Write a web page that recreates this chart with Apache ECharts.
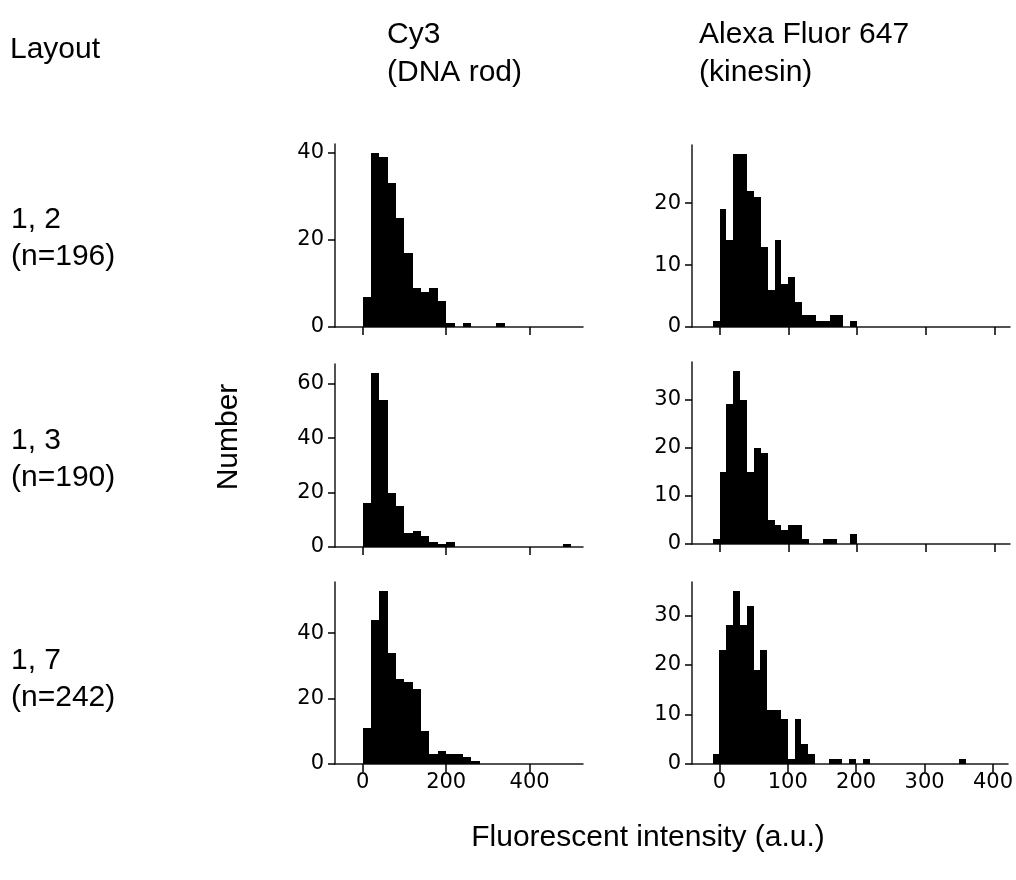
<!DOCTYPE html>
<html>
<head>
<meta charset="utf-8">
<title>Fluorescent intensity histograms</title>
<script src="https://cdn.jsdelivr.net/npm/echarts@6/dist/echarts.min.js"></script>
<style>
  html, body { margin: 0; padding: 0; background: #fff; }
  #chart { width: 1016px; height: 880px; }
</style>
</head>
<body>
<div id="chart"></div>
<script>
// Histogram counts per bin (Cy3 bins: 20 a.u. wide from 0; Alexa Fluor 647 bins: 10 a.u. wide from -10)
const cy3BinStart = 0;
const cy3BinWidth = 20;
const afBinStart = -10;
const afBinWidth = 10;

const cy3Layout12 = [7, 40, 39, 33, 25, 17, 9, 8, 9, 6, 1, 0, 1, 0, 0, 0, 1];
const cy3Layout13 = [16, 64, 54, 20, 15, 5, 6, 4, 2, 1, 2, 0, 0, 0, 0, 0, 0, 0, 0, 0, 0, 0, 0, 0, 1];
const cy3Layout17 = [11, 44, 53, 34, 26, 25, 23, 10, 3, 4, 3, 3, 2, 1];

const afLayout12 = [1, 19, 14, 28, 28, 22, 21, 13, 6, 14, 7, 8, 4, 2, 2, 1, 1, 2, 2, 0, 1];
const afLayout13 = [1, 15, 29, 36, 30, 15, 20, 19, 5, 4, 3, 4, 4, 1, 0, 0, 1, 1, 0, 0, 2];
const afLayout17 = [2, 23, 28, 35, 28, 32, 19, 23, 11, 11, 9, 1, 9, 4, 2, 0, 0, 1, 1, 0, 1, 0, 1,
                    0, 0, 0, 0, 0, 0, 0, 0, 0, 0, 0, 0, 0, 1];

// Tick labels
const cy3XTicks = [0, 200, 400];
const afXTicks = [0, 100, 200, 300, 400];
const yTicksRow1Left = [0, 20, 40];
const yTicksRow1Right = [0, 10, 20];
const yTicksRow2Left = [0, 20, 40, 60];
const yTicksRow2Right = [0, 10, 20, 30];
const yTicksRow3Left = [0, 20, 40];
const yTicksRow3Right = [0, 10, 20, 30];

const columnTitles = [['Cy3', '(DNA rod)'], ['Alexa Fluor 647', '(kinesin)']];
const rowTitles = [['1, 2', '(n=196)'], ['1, 3', '(n=190)'], ['1, 7', '(n=242)']];

// ---- panel layout ----
const cols = [
  { left: 335, width: 248, xMin: -66.5, xMax: 528, ticks: cy3XTicks, start: cy3BinStart, w: cy3BinWidth },
  { left: 692, width: 318, xMin: -40, xMax: 422, ticks: afXTicks, start: afBinStart, w: afBinWidth }
];
const panels = [
  { col: 0, row: 0, top: 144, height: 183, counts: cy3Layout12, yTicks: yTicksRow1Left },
  { col: 1, row: 0, top: 145, height: 182, counts: afLayout12, yTicks: yTicksRow1Right },
  { col: 0, row: 1, top: 364, height: 183, counts: cy3Layout13, yTicks: yTicksRow2Left },
  { col: 1, row: 1, top: 362, height: 182, counts: afLayout13, yTicks: yTicksRow2Right },
  { col: 0, row: 2, top: 582, height: 182, counts: cy3Layout17, yTicks: yTicksRow3Left },
  { col: 1, row: 2, top: 582, height: 182, counts: afLayout17, yTicks: yTicksRow3Right }
];

const tickFont = { fontFamily: 'DejaVu Sans', fontSize: 21, color: '#000' };
const axisLineStyle = { color: '#1a1a1a', width: 1.5 };

const grid = [], xAxis = [], yAxis = [], series = [];
panels.forEach((p, i) => {
  const c = cols[p.col];
  const maxCount = Math.max.apply(null, p.counts);
  grid.push({ left: c.left, width: c.width, top: p.top, height: p.height });
  xAxis.push({
    type: 'value', gridIndex: i, min: c.xMin, max: c.xMax,
    splitLine: { show: false },
    axisLine: { show: true, onZero: false, lineStyle: axisLineStyle },
    axisTick: { show: true, inside: false, length: 8, customValues: c.ticks, lineStyle: { color: '#000', width: 1.5 } },
    axisLabel: { show: p.row === 2, customValues: c.ticks, margin: 8, ...tickFont }
  });
  yAxis.push({
    type: 'value', gridIndex: i, min: 0, max: maxCount * 1.05,
    splitLine: { show: false },
    axisLine: { show: true, onZero: false, lineStyle: axisLineStyle },
    axisTick: { show: true, inside: false, length: 7, customValues: p.yTicks, lineStyle: { color: '#000', width: 1.5 } },
    axisLabel: { show: true, customValues: p.yTicks, margin: 11, ...tickFont }
  });
  const data = [];
  p.counts.forEach((n, k) => {
    if (n > 0) data.push([c.start + k * c.w, c.start + (k + 1) * c.w, n]);
  });
  series.push({
    type: 'custom', xAxisIndex: i, yAxisIndex: i,
    encode: { x: [0, 1], y: 2 },
    data: data,
    silent: true,
    renderItem: function (params, api) {
      const p0 = api.coord([api.value(0), api.value(2)]);
      const p1 = api.coord([api.value(1), 0]);
      // snap bin edges to whole pixels so adjacent bins join without seams
      const x0 = Math.round(p0[0]), x1 = Math.round(p1[0]);
      const y0 = Math.round(p0[1]);
      return {
        type: 'rect',
        shape: { x: x0, y: y0, width: x1 - x0, height: p1[1] - y0 },
        style: { fill: '#000' }
      };
    }
  });
});

const textFont = 'Liberation Sans, Arial, sans-serif';
const labelSize = 30;
function label(text, x, y, extra) {
  return Object.assign({
    type: 'text', x: x, y: y,
    style: { text: text, font: labelSize + 'px ' + textFont, fill: '#000', textVerticalAlign: 'middle' }
  }, extra || {});
}

const graphic = [
  label('Layout', 10, 50),
  label(columnTitles[0][0], 387, 35),
  label(columnTitles[0][1], 387, 73),
  label(columnTitles[1][0], 699, 35),
  label(columnTitles[1][1], 699, 73),
  label(rowTitles[0][0], 11, 220),
  label(rowTitles[0][1], 11, 257),
  label(rowTitles[1][0], 11, 441),
  label(rowTitles[1][1], 11, 478),
  label(rowTitles[2][0], 11, 661),
  label(rowTitles[2][1], 11, 698),
  {
    type: 'text', x: 229, y: 437, rotation: Math.PI / 2,
    style: { text: 'Number', font: labelSize + 'px ' + textFont, fill: '#000', textAlign: 'center', textVerticalAlign: 'middle' }
  },
  {
    type: 'text', x: 648, y: 838,
    style: { text: 'Fluorescent intensity (a.u.)', font: labelSize + 'px ' + textFont, fill: '#000', textAlign: 'center', textVerticalAlign: 'middle' }
  }
];

const chart = echarts.init(document.getElementById('chart'), null, { renderer: 'canvas' });
chart.setOption({
  animation: false,
  backgroundColor: '#fff',
  grid: grid,
  xAxis: xAxis,
  yAxis: yAxis,
  series: series,
  graphic: graphic
});
</script>
</body>
</html>
